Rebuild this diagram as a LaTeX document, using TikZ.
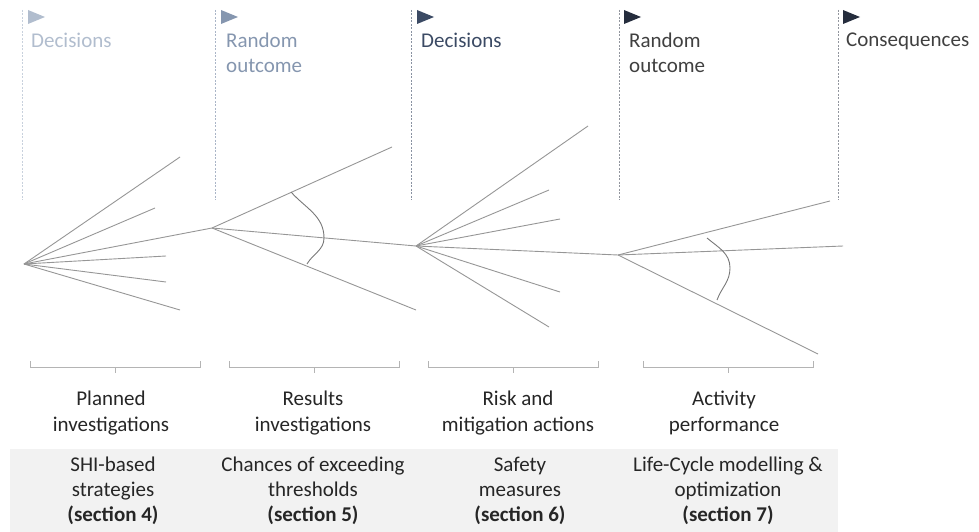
\documentclass[tikz,border=0pt]{standalone}
\usepackage{fontspec}
\setmainfont{Carlito}
\definecolor{tA}{HTML}{B1BDCE}
\definecolor{tB}{HTML}{8596AF}
\definecolor{tC}{HTML}{3B4A64}
\definecolor{tD}{HTML}{252D3D}
\definecolor{txtD}{HTML}{404040}
\definecolor{band}{HTML}{F2F2F2}
\definecolor{branch}{HTML}{969696}
\definecolor{brk}{HTML}{B4B4B4}
\definecolor{ink}{HTML}{262626}
\tikzset{
  sepline/.style={line width=0.6pt, dash pattern=on 2pt off 1.5pt},
  br/.style={draw=branch, line width=0.9pt},
  arcline/.style={draw=branch!80!black, line width=0.9pt},
  bracket/.style={draw=brk, line width=0.8pt},
  toplabel/.style={font=\fontsize{21}{25}\selectfont, anchor=north west, align=left, inner sep=0pt},
  midlabel/.style={font=\fontsize{21}{26}\selectfont, anchor=north, align=center, inner sep=0pt, text=ink},
  bandlabel/.style={font=\fontsize{21}{25}\selectfont, anchor=north, align=center, inner sep=0pt, text=ink},
}
\begin{document}
\begin{tikzpicture}[x=1pt,y=-1pt]
\useasboundingbox (0,0) rectangle (979,532);
\fill[band] (10,449) rectangle (838,532);

% separators
\draw[sepline, draw=tA!70] (22,10) -- (22,200);
\draw[sepline, draw=tB!70] (215,10) -- (215,200);
\draw[sepline, draw=tC!60] (411,10) -- (411,200);
\draw[sepline, draw=tD!50] (619,10) -- (619,200);
\draw[sepline, draw=tD!50] (838,10) -- (838,200);

% flags
\fill[tA] (28,10) -- (45,17) -- (28,24) -- cycle;
\fill[tB] (221,10) -- (238,17) -- (221,24) -- cycle;
\fill[tC] (417,10) -- (434,17) -- (417,24) -- cycle;
\fill[tD] (624,10) -- (641,17) -- (624,24) -- cycle;
\fill[tD] (843,10) -- (860,17) -- (843,24) -- cycle;

\node[toplabel, text=tA] (h1) at (31,33) {Decisions};
\node[toplabel, text=tB] (h2) at (226,33) {Random\\outcome};
\node[toplabel, text=tC] (h3) at (421,33) {Decisions};
\node[toplabel, text=txtD] (h4) at (629,33) {Random\\outcome};
\node[toplabel, text=txtD] (h5) at (846,33) {Consequences};

% tree
\coordinate (A) at (24,264);
\coordinate (B) at (212,228);
\coordinate (C) at (416,246);
\coordinate (D) at (618,255);
\coordinate (a1) at (180,157);
\coordinate (a2) at (155,208);
\coordinate (a4) at (166,256);
\coordinate (a5) at (166,282);
\coordinate (a6) at (180,310);
\coordinate (b1) at (392,147);
\coordinate (b3) at (416,310);
\coordinate (c1) at (588,126);
\coordinate (c2) at (549,190);
\coordinate (c3) at (560,219);
\coordinate (c5) at (560,292);
\coordinate (c6) at (549,327);
\coordinate (d1) at (830,201);
\coordinate (d2) at (843,246);
\coordinate (d3) at (818,354);

\foreach \e in {a1,a2,a4,a5,a6} \draw[br] (A) -- (\e);
\draw[br] (A) -- (B);
\draw[br] (B) -- (b1);
\draw[br] (B) -- (C);
\draw[br] (B) -- (b3);
\foreach \e in {c1,c2,c3,c5,c6} \draw[br] (C) -- (\e);
\draw[br] (C) -- (D);
\foreach \e in {d1,d2,d3} \draw[br] (D) -- (\e);

\draw[arcline] (291,192) to[out=-48,in=90] (324,238) to[out=-90,in=60] (307,264);
\draw[arcline] (707,238) to[out=-40,in=90] (730,268) to[out=-90,in=70] (717,300);

% brackets
\foreach \l/\r in {30/200, 229/399, 428/598, 643/813}{
  \draw[bracket] (\l,361) -- (\l,367) -- (\r,367) -- (\r,361);
  \draw[bracket] ({(\l+\r)/2},367) -- ({(\l+\r)/2},373);
}

\node[midlabel] (m1) at (111,391) {Planned\\investigations};
\node[midlabel] (m2) at (313,391) {Results\\investigations};
\node[midlabel] (m3) at (518,391) {Risk and\\mitigation actions};
\node[midlabel] (m4) at (724,391) {Activity\\performance};

\node[bandlabel] (s1) at (113,457) {SHI-based\\strategies\\\textbf{(section 4)}};
\node[bandlabel] (s2) at (313,457) {Chances of exceeding\\thresholds\\\textbf{(section 5)}};
\node[bandlabel] (s3) at (520,457) {Safety\\measures\\\textbf{(section 6)}};
\node[bandlabel] (s4) at (728,457) {Life-Cycle modelling \&\\optimization\\\textbf{(section 7)}};
\end{tikzpicture}
\end{document}
